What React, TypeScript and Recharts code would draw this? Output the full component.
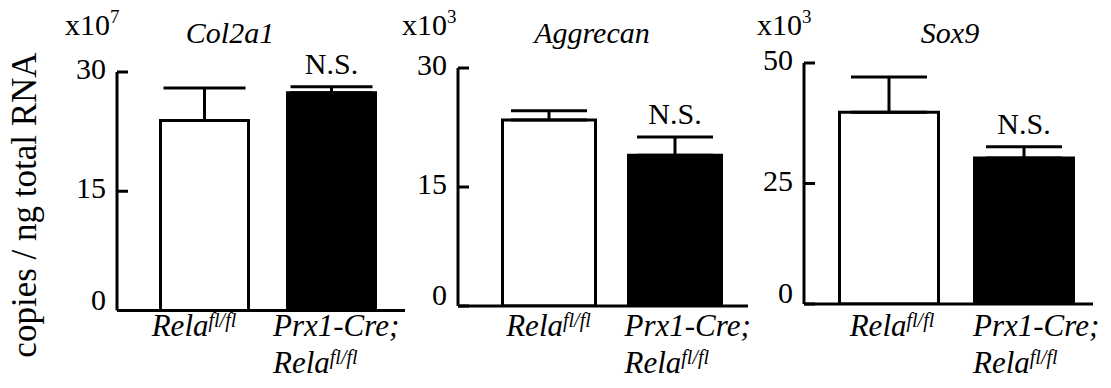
import React from 'react';
import { BarChart, Bar, XAxis, YAxis, ErrorBar, Cell, LabelList } from 'recharts';

// groups (x axis)
const categories = ['Rela fl/fl', 'Prx1-Cre; Rela fl/fl'];
const significance = ['', 'N.S.'];

// Col2a1, x10^7 copies / ng total RNA
const col2a1Means = [23.9, 27.4];
const col2a1Errors = [4.1, 0.75];
const col2a1Ticks = [0, 15, 30];

// Aggrecan, x10^3
const aggrecanMeans = [23.45, 19.0];
const aggrecanErrors = [1.15, 2.3];
const aggrecanTicks = [0, 15, 30];

// Sox9, x10^3
const sox9Means = [39.8, 30.3];
const sox9Errors = [7.3, 2.3];
const sox9Ticks = [0, 25, 50];

const FONT = "'Liberation Serif', 'DejaVu Serif', serif";
const serif = { fontFamily: FONT };
const BAR_COLORS = ['#ffffff', '#000000'];

const panels = [
  {
    title: 'Col2a1', exp: '7', means: col2a1Means, errors: col2a1Errors, ticks: col2a1Ticks,
    left: 50, width: 360, axisX: 67, top: 72, bottom: 310.5, right: 5,
    padL: 23.5, padR: 10.5, barSize: 88, cap: 41,
    label0Dx: -10, label1Dx: -58, titleX: 230, expX: 65,
  },
  {
    title: 'Aggrecan', exp: '3', means: aggrecanMeans, errors: aggrecanErrors, ticks: aggrecanTicks,
    left: 410, width: 350, axisX: 48, top: 68, bottom: 306, right: 12,
    padL: 27.5, padR: 10.5, barSize: 93, cap: 38,
    label0Dx: 0, label1Dx: -50, titleX: 592, expX: 402,
  },
  {
    title: 'Sox9', exp: '3', means: sox9Means, errors: sox9Errors, ticks: sox9Ticks,
    left: 755, width: 356, axisX: 49, top: 63, bottom: 304, right: 18,
    padL: 17.5, padR: 1.5, barSize: 99, cap: 38,
    label0Dx: 3, label1Dx: -51, titleX: 950, expX: 757,
  },
];

// tick lines point into the plot (negative tickSize), labels sit left of the axis
const YTick = (props: any) => {
  const { x, y, payload } = props;
  return (
    <text x={x} y={y} dy={payload.value === 0 ? -1 : 7} textAnchor="end" fontSize={30} style={serif} fill="#000">
      {payload.value}
    </text>
  );
};

const Rela = ({ x, y, anchor }: any) => (
  <text x={x} y={y} textAnchor={anchor} fontSize={31} fontStyle="italic" style={serif} fill="#000">
    <tspan>Rela</tspan>
    <tspan dy={-9} fontSize={20}>fl/fl</tspan>
  </text>
);

const makeXTick = (p: any) => (props: any) => {
  const { x, y, index } = props;
  const base = 336 - y;
  if (index === 0) {
    return <Rela x={x + p.label0Dx} y={y + base} anchor="middle" />;
  }
  return (
    <g>
      <text x={x + p.label1Dx} y={y + base} textAnchor="start" fontSize={31} fontStyle="italic" style={serif} fill="#000">
        Prx1-Cre;
      </text>
      <Rela x={x + p.label1Dx} y={y + base + 37} anchor="start" />
    </g>
  );
};

const makeSigLabel = (p: any) => (props: any) => {
  const { x, y, width, height, value, index } = props;
  if (!value) return null;
  const pxPerUnit = height / p.means[index];
  const errTop = y - p.errors[index] * pxPerUnit;
  return (
    <text x={x + width / 2} y={errTop - 13} textAnchor="middle" fontSize={30} style={serif} fill="#000">
      {value}
    </text>
  );
};

const Panel = ({ p }: any) => {
  const data = categories.map((name, i) => ({
    name,
    value: p.means[i],
    err: [0, p.errors[i]],
    sig: significance[i],
  }));
  const max = p.ticks[p.ticks.length - 1];

  return (
    <div style={{ position: 'absolute', left: p.left, top: 0 }}>
      <BarChart
        width={p.width}
        height={388}
        data={data}
        margin={{ top: p.top, right: p.right, bottom: 0, left: 0 }}
      >
        <XAxis
          dataKey="name"
          height={388 - p.bottom}
          interval={0}
          axisLine={{ stroke: '#000', strokeWidth: 3 }}
          tickLine={false}
          tickSize={0}
          tickMargin={0}
          padding={{ left: p.padL, right: p.padR }}
          tick={makeXTick(p)}
        />
        <YAxis
          width={p.axisX}
          domain={[0, max]}
          ticks={p.ticks}
          allowDataOverflow
          axisLine={{ stroke: '#000', strokeWidth: 3 }}
          tickLine={{ stroke: '#000', strokeWidth: 3 }}
          tickSize={-11}
          tickMargin={22}
          tick={YTick}
        />
        <Bar dataKey="value" barSize={p.barSize} stroke="#000" strokeWidth={3} isAnimationActive={false}>
          {data.map((_, i) => (
            <Cell key={`cell-${i}`} fill={BAR_COLORS[i]} />
          ))}
          <ErrorBar dataKey="err" direction="y" width={p.cap} stroke="#000" strokeWidth={3} isAnimationActive={false} />
          <LabelList dataKey="sig" content={makeSigLabel(p)} />
        </Bar>
      </BarChart>
    </div>
  );
};

export default function App() {
  return (
    <div style={{ position: 'absolute', left: 0, top: 0, width: 1111, height: 388, background: '#fff', fontFamily: FONT }}>
      {panels.map((p) => (
        <Panel key={p.title} p={p} />
      ))}
      <svg width={1111} height={388} style={{ position: 'absolute', left: 0, top: 0, pointerEvents: 'none' }}>
        <text
          x={0}
          y={0}
          transform="translate(36, 205) rotate(-90)"
          textAnchor="middle"
          fontSize={35}
          style={serif}
          fill="#000"
        >
          copies / ng total RNA
        </text>
        {panels.map((p) => (
          <g key={p.title}>
            <text x={p.expX} y={35} fontSize={30} style={serif} fill="#000">
              <tspan>x10</tspan>
              <tspan dy={-12} fontSize={19}>{p.exp}</tspan>
            </text>
            <text x={p.titleX} y={43} textAnchor="middle" fontSize={30} fontStyle="italic" style={serif} fill="#000">
              {p.title}
            </text>
          </g>
        ))}
      </svg>
    </div>
  );
}
